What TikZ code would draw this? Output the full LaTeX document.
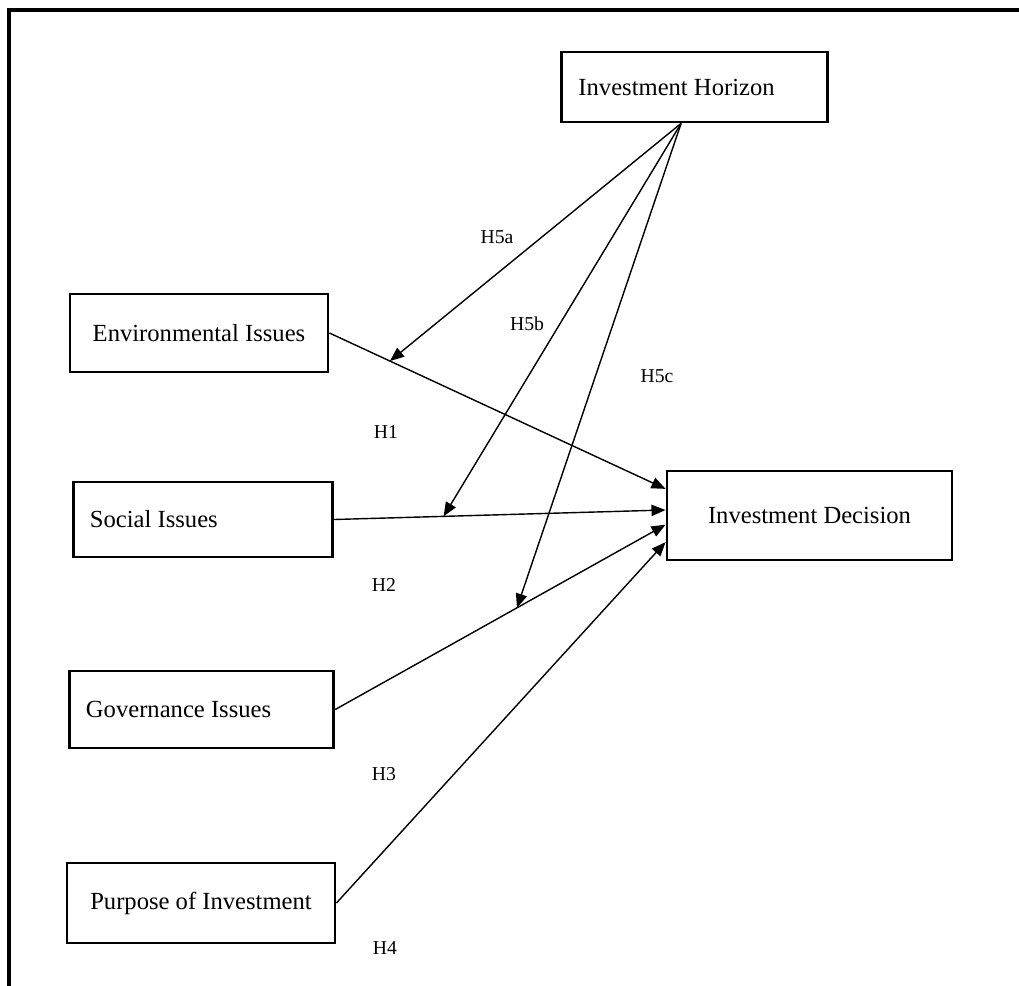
\documentclass[tikz,border=0pt]{standalone}
\usepackage{fontspec}
\setmainfont{Liberation Serif}
\usetikzlibrary{arrows.meta,calc}

\tikzset{
	box/.style={draw, line width=2pt, inner sep=0pt, font=\fontsize{17.5}{20}\selectfont},
	leftbox/.style={box, align=flush left, inner xsep=0.42cm, text width=#1},
	hyp/.style={font=\fontsize{14}{16}\selectfont},
	link/.style={line width=1pt, -{Triangle[length=10pt,width=8pt]}}
}

\begin{document}
\begin{tikzpicture}[x=0.025cm,y=-0.025cm]
		\useasboundingbox (0,0) rectangle (1019,986);
		\draw[line width=2.6pt] (9,986) -- (9,10) -- (1019,10);

		\node[leftbox=5.8cm, minimum height=1.75cm] (hor) at (694.5,87) {Investment Horizon};
		\node[box, minimum width=6.45cm, minimum height=1.95cm] (env) at (199,333) {Environmental Issues};
		\node[leftbox=5.65cm, minimum height=1.875cm] (soc) at (203,519.5) {Social Issues};
		\node[leftbox=5.775cm, minimum height=1.925cm] (gov) at (201.5,709.5) {Governance Issues};
		\node[box, minimum width=6.7cm, minimum height=2cm] (pur) at (201,903) {Purpose of Investment};
		\node[box, minimum width=7.125cm, minimum height=2.225cm] (dec) at (809.5,515.5) {Investment Decision};

		\node[hyp] (h5a) at (497,237) {H5a};
		\node[hyp] (h5b) at (527,324) {H5b};
		\node[hyp] (h5c) at (657,376) {H5c};
		\node[hyp] (h1) at (386,432) {H1};
		\node[hyp] (h2) at (384,585) {H2};
		\node[hyp] (h3) at (384,774) {H3};
		\node[hyp] (h4) at (385,948) {H4};

		\coordinate (src) at ($(hor.south west)!0.45!(hor.south east)$);
		\coordinate (d1) at ($(dec.north west)!0.21!(dec.south west)$);
		\coordinate (d2) at ($(dec.north west)!0.44!(dec.south west)$);
		\coordinate (d3) at ($(dec.north west)!0.60!(dec.south west)$);
		\coordinate (d4) at ($(dec.north west)!0.79!(dec.south west)$);
		\coordinate (m1) at ($(env.east)!0.18!(d1)$);
		\coordinate (m2) at ($(soc.east)!0.33!(d2)$);
		\coordinate (m3) at ($(gov.east)!0.55!(d3)$);

		\draw[link] (env.east) to (d1);
		\draw[link] (soc.east) to (d2);
		\draw[link] (gov.east) to (d3);
		\draw[link] (pur.east) to (d4);
		\draw[link] (src) to (m1); \draw[link] (src) to (m2); \draw[link] (src) to (m3);
\end{tikzpicture}
\end{document}
